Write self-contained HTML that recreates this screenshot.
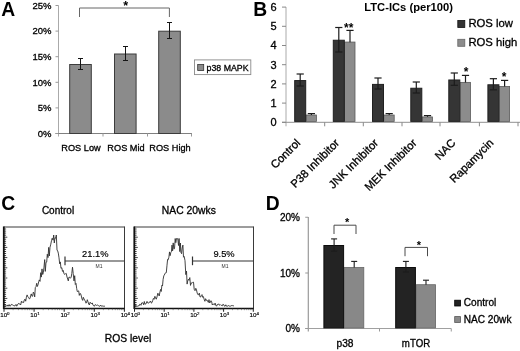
<!DOCTYPE html>
<html><head><meta charset="utf-8"><title>Figure</title>
<style>
html,body{margin:0;padding:0;background:#fff;overflow:hidden;}
svg{display:block;will-change:transform;filter:grayscale(1);}
svg text{font-family:"Liberation Sans",Arial,sans-serif;stroke:#000;stroke-width:0.3px;fill:#000;}
svg text[font-weight="bold"]{stroke:none;}
</style></head>
<body>
<svg width="520" height="351" viewBox="0 0 520 351">
<rect x="0" y="0" width="520" height="351" fill="#ffffff"/>
<text x="1.3" y="15.6" font-size="19.3" text-anchor="start" font-weight="bold" fill="#000" >A</text>
<text x="253.3" y="15.6" font-size="19.3" text-anchor="start" font-weight="bold" fill="#000" >B</text>
<text x="1.3" y="209.6" font-size="19.3" text-anchor="start" font-weight="bold" fill="#000" >C</text>
<text x="265.8" y="210.1" font-size="19.3" text-anchor="start" font-weight="bold" fill="#000" >D</text>
<line x1="58.5" y1="5.5" x2="58.5" y2="136.5" stroke="#aaa" stroke-width="1"/>
<line x1="55.5" y1="133.5" x2="192" y2="133.5" stroke="#808080" stroke-width="1"/>
<line x1="55.5" y1="133.5" x2="58.5" y2="133.5" stroke="#999" stroke-width="1"/>
<text x="51.5" y="136.8" font-size="9.5" text-anchor="end" font-weight="normal" fill="#000" >0%</text>
<line x1="55.5" y1="107.9" x2="58.5" y2="107.9" stroke="#999" stroke-width="1"/>
<text x="51.5" y="111.2" font-size="9.5" text-anchor="end" font-weight="normal" fill="#000" >5%</text>
<line x1="55.5" y1="82.3" x2="58.5" y2="82.3" stroke="#999" stroke-width="1"/>
<text x="51.5" y="85.6" font-size="9.5" text-anchor="end" font-weight="normal" fill="#000" >10%</text>
<line x1="55.5" y1="56.69999999999999" x2="58.5" y2="56.69999999999999" stroke="#999" stroke-width="1"/>
<text x="51.5" y="60.0" font-size="9.5" text-anchor="end" font-weight="normal" fill="#000" >15%</text>
<line x1="55.5" y1="31.099999999999994" x2="58.5" y2="31.099999999999994" stroke="#999" stroke-width="1"/>
<text x="51.5" y="34.4" font-size="9.5" text-anchor="end" font-weight="normal" fill="#000" >20%</text>
<line x1="55.5" y1="5.5" x2="58.5" y2="5.5" stroke="#999" stroke-width="1"/>
<text x="51.5" y="8.8" font-size="9.5" text-anchor="end" font-weight="normal" fill="#000" >25%</text>
<line x1="103" y1="133.5" x2="103" y2="136.5" stroke="#999" stroke-width="1"/>
<line x1="147.5" y1="133.5" x2="147.5" y2="136.5" stroke="#999" stroke-width="1"/>
<line x1="191.5" y1="133.5" x2="191.5" y2="136.5" stroke="#999" stroke-width="1"/>
<rect x="69.7" y="64.5" width="21.6" height="69.0" fill="#8b8b8b" stroke="#3c3c3c" stroke-width="1"/>
<line x1="80.5" y1="58.5" x2="80.5" y2="69.5" stroke="#151515" stroke-width="1"/>
<line x1="78.0" y1="58.5" x2="83.0" y2="58.5" stroke="#151515" stroke-width="1"/>
<line x1="78.0" y1="69.5" x2="83.0" y2="69.5" stroke="#151515" stroke-width="1"/>
<rect x="114.5" y="54.0" width="21.6" height="79.5" fill="#8b8b8b" stroke="#3c3c3c" stroke-width="1"/>
<line x1="125.5" y1="46.5" x2="125.5" y2="60.5" stroke="#151515" stroke-width="1"/>
<line x1="123.0" y1="46.5" x2="128.0" y2="46.5" stroke="#151515" stroke-width="1"/>
<line x1="123.0" y1="60.5" x2="128.0" y2="60.5" stroke="#151515" stroke-width="1"/>
<rect x="158.7" y="31.2" width="21.6" height="102.3" fill="#8b8b8b" stroke="#3c3c3c" stroke-width="1"/>
<line x1="169.5" y1="22.5" x2="169.5" y2="38.5" stroke="#151515" stroke-width="1"/>
<line x1="167.0" y1="22.5" x2="172.0" y2="22.5" stroke="#151515" stroke-width="1"/>
<line x1="167.0" y1="38.5" x2="172.0" y2="38.5" stroke="#151515" stroke-width="1"/>
<text x="81" y="151.4" font-size="9.2" text-anchor="middle" font-weight="normal" fill="#000" >ROS Low</text>
<text x="126" y="151.4" font-size="9.2" text-anchor="middle" font-weight="normal" fill="#000" >ROS Mid</text>
<text x="170" y="151.4" font-size="9.2" text-anchor="middle" font-weight="normal" fill="#000" >ROS High</text>
<polyline points="79.5,17 79.5,8 169.4,8 169.4,17" fill="none" stroke="#666" stroke-width="1"/>
<text x="125.6" y="10.2" font-size="12.5" text-anchor="middle" font-weight="bold" fill="#000" >*</text>
<rect x="194.5" y="59.9" width="56.3" height="14.7" fill="#fff" stroke="#8a8a8a" stroke-width="0.9"/>
<rect x="197.7" y="64.5" width="6" height="6" fill="#8b8b8b" stroke="#333" stroke-width="0.8"/>
<text x="206.6" y="71" font-size="9" text-anchor="start" font-weight="normal" fill="#000" textLength="42" lengthAdjust="spacingAndGlyphs">p38 MAPK</text>
<line x1="286" y1="7" x2="286" y2="126.3" stroke="#aaa" stroke-width="1"/>
<line x1="282" y1="122.3" x2="520" y2="122.3" stroke="#909090" stroke-width="1"/>
<line x1="282" y1="122.3" x2="286" y2="122.3" stroke="#888" stroke-width="1"/>
<text x="276.5" y="126.1" font-size="11" text-anchor="end" font-weight="normal" fill="#000" >0</text>
<line x1="282" y1="103.1" x2="286" y2="103.1" stroke="#888" stroke-width="1"/>
<text x="276.5" y="106.9" font-size="11" text-anchor="end" font-weight="normal" fill="#000" >1</text>
<line x1="282" y1="83.9" x2="286" y2="83.9" stroke="#888" stroke-width="1"/>
<text x="276.5" y="87.7" font-size="11" text-anchor="end" font-weight="normal" fill="#000" >2</text>
<line x1="282" y1="64.7" x2="286" y2="64.7" stroke="#888" stroke-width="1"/>
<text x="276.5" y="68.5" font-size="11" text-anchor="end" font-weight="normal" fill="#000" >3</text>
<line x1="282" y1="45.5" x2="286" y2="45.5" stroke="#888" stroke-width="1"/>
<text x="276.5" y="49.3" font-size="11" text-anchor="end" font-weight="normal" fill="#000" >4</text>
<line x1="282" y1="26.299999999999997" x2="286" y2="26.299999999999997" stroke="#888" stroke-width="1"/>
<text x="276.5" y="30.1" font-size="11" text-anchor="end" font-weight="normal" fill="#000" >5</text>
<line x1="282" y1="7.1000000000000085" x2="286" y2="7.1000000000000085" stroke="#888" stroke-width="1"/>
<text x="276.5" y="10.9" font-size="11" text-anchor="end" font-weight="normal" fill="#000" >6</text>
<line x1="324.7" y1="122.3" x2="324.7" y2="126.3" stroke="#888" stroke-width="1"/>
<line x1="363.3" y1="122.3" x2="363.3" y2="126.3" stroke="#888" stroke-width="1"/>
<line x1="402" y1="122.3" x2="402" y2="126.3" stroke="#888" stroke-width="1"/>
<line x1="440" y1="122.3" x2="440" y2="126.3" stroke="#888" stroke-width="1"/>
<line x1="479.4" y1="122.3" x2="479.4" y2="126.3" stroke="#888" stroke-width="1"/>
<line x1="518" y1="122.3" x2="518" y2="126.3" stroke="#888" stroke-width="1"/>
<text x="408.6" y="10.5" font-size="11.2" text-anchor="middle" font-weight="bold" fill="#000" >LTC-ICs (per100)</text>
<rect x="306.0" y="115.02" width="10.4" height="6.38" fill="#8c8c8c" stroke="#5a5a5a" stroke-width="0.8"/>
<rect x="294.7" y="80.56" width="11" height="40.84" fill="#353535" stroke="#202020" stroke-width="1"/>
<line x1="300.2" y1="74" x2="300.2" y2="86" stroke="#1c1c1c" stroke-width="1.2"/>
<line x1="296.59999999999997" y1="74" x2="303.8" y2="74" stroke="#1c1c1c" stroke-width="1.2"/>
<line x1="296.59999999999997" y1="86" x2="303.8" y2="86" stroke="#1c1c1c" stroke-width="1.2"/>
<line x1="311.4" y1="113.6" x2="311.4" y2="115" stroke="#1c1c1c" stroke-width="1.2"/>
<line x1="307.79999999999995" y1="113.6" x2="315.0" y2="113.6" stroke="#1c1c1c" stroke-width="1.2"/>
<rect x="344.6" y="42.06" width="10.4" height="79.34" fill="#8c8c8c" stroke="#5a5a5a" stroke-width="0.8"/>
<rect x="333.3" y="40.24" width="11" height="81.16" fill="#353535" stroke="#202020" stroke-width="1"/>
<line x1="338.8" y1="27.5" x2="338.8" y2="52" stroke="#1c1c1c" stroke-width="1.2"/>
<line x1="335.2" y1="27.5" x2="342.40000000000003" y2="27.5" stroke="#1c1c1c" stroke-width="1.2"/>
<line x1="335.2" y1="52" x2="342.40000000000003" y2="52" stroke="#1c1c1c" stroke-width="1.2"/>
<line x1="350.0" y1="30.4" x2="350.0" y2="42.16" stroke="#1c1c1c" stroke-width="1.2"/>
<line x1="346.4" y1="30.4" x2="353.6" y2="30.4" stroke="#1c1c1c" stroke-width="1.2"/>
<rect x="383.8" y="115.02" width="10.4" height="6.38" fill="#8c8c8c" stroke="#5a5a5a" stroke-width="0.8"/>
<rect x="372.5" y="84.4" width="11" height="37.0" fill="#353535" stroke="#202020" stroke-width="1"/>
<line x1="378" y1="78" x2="378" y2="89" stroke="#1c1c1c" stroke-width="1.2"/>
<line x1="374.4" y1="78" x2="381.6" y2="78" stroke="#1c1c1c" stroke-width="1.2"/>
<line x1="374.4" y1="89" x2="381.6" y2="89" stroke="#1c1c1c" stroke-width="1.2"/>
<line x1="389.2" y1="113.6" x2="389.2" y2="115" stroke="#1c1c1c" stroke-width="1.2"/>
<line x1="385.59999999999997" y1="113.6" x2="392.8" y2="113.6" stroke="#1c1c1c" stroke-width="1.2"/>
<rect x="422.1" y="116.94" width="10.4" height="4.46" fill="#8c8c8c" stroke="#5a5a5a" stroke-width="0.8"/>
<rect x="410.8" y="88.24" width="11" height="33.16" fill="#353535" stroke="#202020" stroke-width="1"/>
<line x1="416.3" y1="82" x2="416.3" y2="93" stroke="#1c1c1c" stroke-width="1.2"/>
<line x1="412.7" y1="82" x2="419.90000000000003" y2="82" stroke="#1c1c1c" stroke-width="1.2"/>
<line x1="412.7" y1="93" x2="419.90000000000003" y2="93" stroke="#1c1c1c" stroke-width="1.2"/>
<line x1="427.5" y1="115.6" x2="427.5" y2="116.8" stroke="#1c1c1c" stroke-width="1.2"/>
<line x1="423.9" y1="115.6" x2="431.1" y2="115.6" stroke="#1c1c1c" stroke-width="1.2"/>
<rect x="460.1" y="82.38" width="10.4" height="39.02" fill="#8c8c8c" stroke="#5a5a5a" stroke-width="0.8"/>
<rect x="448.8" y="79.98" width="11" height="41.42" fill="#353535" stroke="#202020" stroke-width="1"/>
<line x1="454.3" y1="73" x2="454.3" y2="85.3" stroke="#1c1c1c" stroke-width="1.2"/>
<line x1="450.7" y1="73" x2="457.90000000000003" y2="73" stroke="#1c1c1c" stroke-width="1.2"/>
<line x1="450.7" y1="85.3" x2="457.90000000000003" y2="85.3" stroke="#1c1c1c" stroke-width="1.2"/>
<line x1="465.5" y1="75.4" x2="465.5" y2="82.47999999999999" stroke="#1c1c1c" stroke-width="1.2"/>
<line x1="461.9" y1="75.4" x2="469.1" y2="75.4" stroke="#1c1c1c" stroke-width="1.2"/>
<rect x="499.2" y="86.41" width="10.4" height="34.99" fill="#8c8c8c" stroke="#5a5a5a" stroke-width="0.8"/>
<rect x="487.9" y="84.78" width="11" height="36.62" fill="#353535" stroke="#202020" stroke-width="1"/>
<line x1="493.4" y1="78.7" x2="493.4" y2="89.8" stroke="#1c1c1c" stroke-width="1.2"/>
<line x1="489.79999999999995" y1="78.7" x2="497.0" y2="78.7" stroke="#1c1c1c" stroke-width="1.2"/>
<line x1="489.79999999999995" y1="89.8" x2="497.0" y2="89.8" stroke="#1c1c1c" stroke-width="1.2"/>
<line x1="504.59999999999997" y1="80.4" x2="504.59999999999997" y2="86.512" stroke="#1c1c1c" stroke-width="1.2"/>
<line x1="500.99999999999994" y1="80.4" x2="508.2" y2="80.4" stroke="#1c1c1c" stroke-width="1.2"/>
<text x="348.7" y="32.3" font-size="12" text-anchor="middle" font-weight="bold" fill="#000" >**</text>
<text x="466" y="76.2" font-size="12" text-anchor="middle" font-weight="bold" fill="#000" >*</text>
<text x="504.2" y="81.2" font-size="12" text-anchor="middle" font-weight="bold" fill="#000" >*</text>
<rect x="457.8" y="20.5" width="7" height="7" fill="#333" stroke="#111" stroke-width="0.8"/>
<text x="468.4" y="26.8" font-size="11.3" text-anchor="start" font-weight="normal" fill="#000" >ROS low</text>
<rect x="457.8" y="39.3" width="7" height="7" fill="#8c8c8c" stroke="#666" stroke-width="0.8"/>
<text x="468.4" y="45.8" font-size="11.3" text-anchor="start" font-weight="normal" fill="#000" >ROS high</text>
<text transform="translate(301,143.6) rotate(-45)" font-size="11.3" text-anchor="end" fill="#111">Control</text>
<text transform="translate(340,143.6) rotate(-45)" font-size="11.3" text-anchor="end" fill="#111">P38 Inhibitor</text>
<text transform="translate(379,143.6) rotate(-45)" font-size="11.3" text-anchor="end" fill="#111">JNK Inhibitor</text>
<text transform="translate(417.3,143.6) rotate(-45)" font-size="11.3" text-anchor="end" fill="#111">MEK Inhibitor</text>
<text transform="translate(456.3,143.6) rotate(-45)" font-size="11.3" text-anchor="end" fill="#111">NAC</text>
<text transform="translate(494.3,143.6) rotate(-45)" font-size="11.3" text-anchor="end" fill="#111">Rapamycin</text>
<line x1="3.5" y1="227" x2="124.5" y2="227" stroke="#3a3a3a" stroke-width="1"/>
<line x1="124.5" y1="226.5" x2="124.5" y2="309" stroke="#3a3a3a" stroke-width="1"/>
<line x1="3.8" y1="226.5" x2="3.8" y2="309" stroke="#111" stroke-width="1.8"/>
<line x1="3.5" y1="308.4" x2="124.5" y2="308.4" stroke="#111" stroke-width="1.5"/>
<line x1="4.0" y1="308.5" x2="4.0" y2="311.8" stroke="#222" stroke-width="1"/>
<text x="4.9" y="317.4" font-size="6.2" text-anchor="middle" style="stroke-width:0.15px">10<tspan dy="-2.4" font-size="4.4">0</tspan></text>
<line x1="13.1" y1="308.5" x2="13.1" y2="310.2" stroke="#444" stroke-width="0.5"/>
<line x1="18.4" y1="308.5" x2="18.4" y2="310.2" stroke="#444" stroke-width="0.5"/>
<line x1="22.1" y1="308.5" x2="22.1" y2="310.2" stroke="#444" stroke-width="0.5"/>
<line x1="25.0" y1="308.5" x2="25.0" y2="310.2" stroke="#444" stroke-width="0.5"/>
<line x1="27.4" y1="308.5" x2="27.4" y2="310.2" stroke="#444" stroke-width="0.5"/>
<line x1="29.4" y1="308.5" x2="29.4" y2="310.2" stroke="#444" stroke-width="0.5"/>
<line x1="31.2" y1="308.5" x2="31.2" y2="310.2" stroke="#444" stroke-width="0.5"/>
<line x1="32.7" y1="308.5" x2="32.7" y2="310.2" stroke="#444" stroke-width="0.5"/>
<line x1="34.1" y1="308.5" x2="34.1" y2="311.8" stroke="#222" stroke-width="1"/>
<text x="35.0" y="317.4" font-size="6.2" text-anchor="middle" style="stroke-width:0.15px">10<tspan dy="-2.4" font-size="4.4">1</tspan></text>
<line x1="43.2" y1="308.5" x2="43.2" y2="310.2" stroke="#444" stroke-width="0.5"/>
<line x1="48.5" y1="308.5" x2="48.5" y2="310.2" stroke="#444" stroke-width="0.5"/>
<line x1="52.2" y1="308.5" x2="52.2" y2="310.2" stroke="#444" stroke-width="0.5"/>
<line x1="55.1" y1="308.5" x2="55.1" y2="310.2" stroke="#444" stroke-width="0.5"/>
<line x1="57.5" y1="308.5" x2="57.5" y2="310.2" stroke="#444" stroke-width="0.5"/>
<line x1="59.5" y1="308.5" x2="59.5" y2="310.2" stroke="#444" stroke-width="0.5"/>
<line x1="61.3" y1="308.5" x2="61.3" y2="310.2" stroke="#444" stroke-width="0.5"/>
<line x1="62.8" y1="308.5" x2="62.8" y2="310.2" stroke="#444" stroke-width="0.5"/>
<line x1="64.2" y1="308.5" x2="64.2" y2="311.8" stroke="#222" stroke-width="1"/>
<text x="65.1" y="317.4" font-size="6.2" text-anchor="middle" style="stroke-width:0.15px">10<tspan dy="-2.4" font-size="4.4">2</tspan></text>
<line x1="73.3" y1="308.5" x2="73.3" y2="310.2" stroke="#444" stroke-width="0.5"/>
<line x1="78.6" y1="308.5" x2="78.6" y2="310.2" stroke="#444" stroke-width="0.5"/>
<line x1="82.3" y1="308.5" x2="82.3" y2="310.2" stroke="#444" stroke-width="0.5"/>
<line x1="85.2" y1="308.5" x2="85.2" y2="310.2" stroke="#444" stroke-width="0.5"/>
<line x1="87.6" y1="308.5" x2="87.6" y2="310.2" stroke="#444" stroke-width="0.5"/>
<line x1="89.6" y1="308.5" x2="89.6" y2="310.2" stroke="#444" stroke-width="0.5"/>
<line x1="91.4" y1="308.5" x2="91.4" y2="310.2" stroke="#444" stroke-width="0.5"/>
<line x1="92.9" y1="308.5" x2="92.9" y2="310.2" stroke="#444" stroke-width="0.5"/>
<line x1="94.3" y1="308.5" x2="94.3" y2="311.8" stroke="#222" stroke-width="1"/>
<text x="95.2" y="317.4" font-size="6.2" text-anchor="middle" style="stroke-width:0.15px">10<tspan dy="-2.4" font-size="4.4">3</tspan></text>
<line x1="103.4" y1="308.5" x2="103.4" y2="310.2" stroke="#444" stroke-width="0.5"/>
<line x1="108.7" y1="308.5" x2="108.7" y2="310.2" stroke="#444" stroke-width="0.5"/>
<line x1="112.4" y1="308.5" x2="112.4" y2="310.2" stroke="#444" stroke-width="0.5"/>
<line x1="115.3" y1="308.5" x2="115.3" y2="310.2" stroke="#444" stroke-width="0.5"/>
<line x1="117.7" y1="308.5" x2="117.7" y2="310.2" stroke="#444" stroke-width="0.5"/>
<line x1="119.7" y1="308.5" x2="119.7" y2="310.2" stroke="#444" stroke-width="0.5"/>
<line x1="121.5" y1="308.5" x2="121.5" y2="310.2" stroke="#444" stroke-width="0.5"/>
<line x1="123.0" y1="308.5" x2="123.0" y2="310.2" stroke="#444" stroke-width="0.5"/>
<line x1="124.4" y1="308.5" x2="124.4" y2="311.8" stroke="#222" stroke-width="1"/>
<text x="125.3" y="317.4" font-size="6.2" text-anchor="middle" style="stroke-width:0.15px">10<tspan dy="-2.4" font-size="4.4">4</tspan></text>
<line x1="3.5" y1="229.0" x2="6.1" y2="229.0" stroke="#111" stroke-width="0.8"/>
<line x1="3.5" y1="231.1" x2="6.1" y2="231.1" stroke="#111" stroke-width="0.8"/>
<line x1="3.5" y1="233.1" x2="6.1" y2="233.1" stroke="#111" stroke-width="0.8"/>
<line x1="3.5" y1="235.2" x2="6.1" y2="235.2" stroke="#111" stroke-width="0.8"/>
<line x1="3.5" y1="237.2" x2="7.3" y2="237.2" stroke="#111" stroke-width="0.8"/>
<line x1="3.5" y1="239.2" x2="6.1" y2="239.2" stroke="#111" stroke-width="0.8"/>
<line x1="3.5" y1="241.3" x2="6.1" y2="241.3" stroke="#111" stroke-width="0.8"/>
<line x1="3.5" y1="243.3" x2="6.1" y2="243.3" stroke="#111" stroke-width="0.8"/>
<line x1="3.5" y1="245.4" x2="6.1" y2="245.4" stroke="#111" stroke-width="0.8"/>
<line x1="3.5" y1="247.4" x2="7.3" y2="247.4" stroke="#111" stroke-width="0.8"/>
<line x1="3.5" y1="249.4" x2="6.1" y2="249.4" stroke="#111" stroke-width="0.8"/>
<line x1="3.5" y1="251.5" x2="6.1" y2="251.5" stroke="#111" stroke-width="0.8"/>
<line x1="3.5" y1="253.5" x2="6.1" y2="253.5" stroke="#111" stroke-width="0.8"/>
<line x1="3.5" y1="255.6" x2="6.1" y2="255.6" stroke="#111" stroke-width="0.8"/>
<line x1="3.5" y1="257.6" x2="7.3" y2="257.6" stroke="#111" stroke-width="0.8"/>
<line x1="3.5" y1="259.6" x2="6.1" y2="259.6" stroke="#111" stroke-width="0.8"/>
<line x1="3.5" y1="261.7" x2="6.1" y2="261.7" stroke="#111" stroke-width="0.8"/>
<line x1="3.5" y1="263.7" x2="6.1" y2="263.7" stroke="#111" stroke-width="0.8"/>
<line x1="3.5" y1="265.8" x2="6.1" y2="265.8" stroke="#111" stroke-width="0.8"/>
<line x1="3.5" y1="267.8" x2="7.3" y2="267.8" stroke="#111" stroke-width="0.8"/>
<line x1="3.5" y1="269.8" x2="6.1" y2="269.8" stroke="#111" stroke-width="0.8"/>
<line x1="3.5" y1="271.9" x2="6.1" y2="271.9" stroke="#111" stroke-width="0.8"/>
<line x1="3.5" y1="273.9" x2="6.1" y2="273.9" stroke="#111" stroke-width="0.8"/>
<line x1="3.5" y1="276.0" x2="6.1" y2="276.0" stroke="#111" stroke-width="0.8"/>
<line x1="3.5" y1="278.0" x2="7.3" y2="278.0" stroke="#111" stroke-width="0.8"/>
<line x1="3.5" y1="280.0" x2="6.1" y2="280.0" stroke="#111" stroke-width="0.8"/>
<line x1="3.5" y1="282.1" x2="6.1" y2="282.1" stroke="#111" stroke-width="0.8"/>
<line x1="3.5" y1="284.1" x2="6.1" y2="284.1" stroke="#111" stroke-width="0.8"/>
<line x1="3.5" y1="286.2" x2="6.1" y2="286.2" stroke="#111" stroke-width="0.8"/>
<line x1="3.5" y1="288.2" x2="7.3" y2="288.2" stroke="#111" stroke-width="0.8"/>
<line x1="3.5" y1="290.2" x2="6.1" y2="290.2" stroke="#111" stroke-width="0.8"/>
<line x1="3.5" y1="292.3" x2="6.1" y2="292.3" stroke="#111" stroke-width="0.8"/>
<line x1="3.5" y1="294.3" x2="6.1" y2="294.3" stroke="#111" stroke-width="0.8"/>
<line x1="3.5" y1="296.4" x2="6.1" y2="296.4" stroke="#111" stroke-width="0.8"/>
<line x1="3.5" y1="298.4" x2="7.3" y2="298.4" stroke="#111" stroke-width="0.8"/>
<line x1="3.5" y1="300.4" x2="6.1" y2="300.4" stroke="#111" stroke-width="0.8"/>
<line x1="3.5" y1="302.5" x2="6.1" y2="302.5" stroke="#111" stroke-width="0.8"/>
<line x1="3.5" y1="304.5" x2="6.1" y2="304.5" stroke="#111" stroke-width="0.8"/>
<line x1="3.5" y1="306.6" x2="6.1" y2="306.6" stroke="#111" stroke-width="0.8"/>
<polyline fill="none" stroke="#303030" stroke-width="0.9" stroke-linejoin="round" points="4.5,305.9 5.2,305.7 5.9,305.9 6.5,305.7 7.2,306.2 7.9,304.9 8.6,306.2 9.2,304.6 9.9,306.2 10.6,305.8 11.3,304.4 12.0,304.5 12.6,304.9 13.3,305.3 14.0,306.2 14.7,305.6 15.3,305.6 16.0,304.4 16.7,306.2 17.3,305.4 18.0,303.9 18.7,303.3 19.3,304.1 20.0,303.9 20.7,304.9 21.4,301.3 22.1,302.6 22.9,301.7 23.6,302.6 24.3,300.0 25.0,299.1 25.7,301.2 26.4,297.2 27.1,294.9 27.9,296.8 28.6,297.7 29.3,298.8 30.0,298.5 30.7,295.3 31.3,293.9 32.0,296.4 32.7,296.1 33.3,292.1 34.0,293.0 34.7,296.9 35.3,287.6 36.0,286.7 36.7,283.3 37.3,286.5 38.0,284.8 38.7,281.6 39.3,279.9 40.0,281.4 40.7,272.7 41.3,277.1 42.0,268.9 42.7,274.5 43.3,272.7 44.0,267.1 44.7,259.6 45.3,271.4 46.0,262.3 46.7,262.1 47.3,254.2 48.0,257.6 48.7,247.4 49.3,256.0 50.0,247.2 50.8,244.2 51.5,240.6 52.2,238.2 53.0,240.2 53.7,235 54.3,243.0 55.0,237.7 55.7,238.2 56.3,235 57.0,250.0 57.7,251.0 58.3,253.1 59.0,257.8 59.7,263.8 60.3,261.9 61.0,268.4 61.8,267.7 62.5,271.4 63.2,270.4 64.0,273.8 64.8,274.4 65.5,273.7 66.2,273.4 67.0,277.0 67.7,279.0 68.3,280.9 69.0,277.0 69.7,277.2 70.4,278.1 71.1,277.6 71.8,273.4 72.5,267.2 73.2,273.5 74.0,280.9 74.7,275.7 75.3,284.5 76.0,283.4 76.7,288.6 77.3,291.6 78.0,291.2 78.7,290.9 79.3,295.4 80.0,293.3 80.7,293.9 81.3,296.0 82.0,299.0 82.7,300.4 83.3,297.3 84.0,298.9 84.7,300.2 85.3,301.1 86.0,303.2 86.7,302.1 87.3,299.7 88.0,301.9 88.7,304.0 89.4,305.0 90.1,302.2 90.9,303.1 91.6,304.0 92.3,302.9 93.0,305.2 93.7,305.7 94.4,306.2 95.1,304.7 95.8,304.8 96.5,305.4 97.2,304.9 97.9,305.3 98.6,305.7 99.3,306.2 100.0,306.2 100.7,305.1 101.4,306.2 102.1,305.8 102.9,306.2 103.6,306.2 104.3,306.2 105,306.2"/>
<line x1="65" y1="261" x2="124" y2="261" stroke="#333" stroke-width="1.2"/>
<line x1="65" y1="256.5" x2="65" y2="265.2" stroke="#333" stroke-width="1.2"/>
<text x="95.3" y="256.6" font-size="9.3" text-anchor="middle" font-weight="normal" fill="#000" style="stroke-width:0.18px">21.1%</text>
<text x="99" y="268.3" font-size="5" text-anchor="middle" font-weight="normal" fill="#333" style="stroke:none;fill:#333">M1</text>
<text x="58" y="213.5" font-size="10" text-anchor="middle" font-weight="normal" fill="#000" >Control</text>
<line x1="134" y1="227" x2="253.5" y2="227" stroke="#3a3a3a" stroke-width="1"/>
<line x1="253.5" y1="226.5" x2="253.5" y2="309" stroke="#3a3a3a" stroke-width="1"/>
<line x1="134.3" y1="226.5" x2="134.3" y2="309" stroke="#111" stroke-width="1.8"/>
<line x1="134" y1="308.4" x2="253.5" y2="308.4" stroke="#111" stroke-width="1.5"/>
<line x1="134.5" y1="308.5" x2="134.5" y2="311.8" stroke="#222" stroke-width="1"/>
<text x="135.4" y="317.4" font-size="6.2" text-anchor="middle" style="stroke-width:0.15px">10<tspan dy="-2.4" font-size="4.4">0</tspan></text>
<line x1="143.4" y1="308.5" x2="143.4" y2="310.2" stroke="#444" stroke-width="0.5"/>
<line x1="148.7" y1="308.5" x2="148.7" y2="310.2" stroke="#444" stroke-width="0.5"/>
<line x1="152.4" y1="308.5" x2="152.4" y2="310.2" stroke="#444" stroke-width="0.5"/>
<line x1="155.3" y1="308.5" x2="155.3" y2="310.2" stroke="#444" stroke-width="0.5"/>
<line x1="157.6" y1="308.5" x2="157.6" y2="310.2" stroke="#444" stroke-width="0.5"/>
<line x1="159.6" y1="308.5" x2="159.6" y2="310.2" stroke="#444" stroke-width="0.5"/>
<line x1="161.3" y1="308.5" x2="161.3" y2="310.2" stroke="#444" stroke-width="0.5"/>
<line x1="162.8" y1="308.5" x2="162.8" y2="310.2" stroke="#444" stroke-width="0.5"/>
<line x1="164.2" y1="308.5" x2="164.2" y2="311.8" stroke="#222" stroke-width="1"/>
<text x="165.1" y="317.4" font-size="6.2" text-anchor="middle" style="stroke-width:0.15px">10<tspan dy="-2.4" font-size="4.4">1</tspan></text>
<line x1="173.1" y1="308.5" x2="173.1" y2="310.2" stroke="#444" stroke-width="0.5"/>
<line x1="178.4" y1="308.5" x2="178.4" y2="310.2" stroke="#444" stroke-width="0.5"/>
<line x1="182.1" y1="308.5" x2="182.1" y2="310.2" stroke="#444" stroke-width="0.5"/>
<line x1="185.0" y1="308.5" x2="185.0" y2="310.2" stroke="#444" stroke-width="0.5"/>
<line x1="187.3" y1="308.5" x2="187.3" y2="310.2" stroke="#444" stroke-width="0.5"/>
<line x1="189.3" y1="308.5" x2="189.3" y2="310.2" stroke="#444" stroke-width="0.5"/>
<line x1="191.0" y1="308.5" x2="191.0" y2="310.2" stroke="#444" stroke-width="0.5"/>
<line x1="192.5" y1="308.5" x2="192.5" y2="310.2" stroke="#444" stroke-width="0.5"/>
<line x1="193.9" y1="308.5" x2="193.9" y2="311.8" stroke="#222" stroke-width="1"/>
<text x="194.8" y="317.4" font-size="6.2" text-anchor="middle" style="stroke-width:0.15px">10<tspan dy="-2.4" font-size="4.4">2</tspan></text>
<line x1="202.8" y1="308.5" x2="202.8" y2="310.2" stroke="#444" stroke-width="0.5"/>
<line x1="208.1" y1="308.5" x2="208.1" y2="310.2" stroke="#444" stroke-width="0.5"/>
<line x1="211.8" y1="308.5" x2="211.8" y2="310.2" stroke="#444" stroke-width="0.5"/>
<line x1="214.7" y1="308.5" x2="214.7" y2="310.2" stroke="#444" stroke-width="0.5"/>
<line x1="217.0" y1="308.5" x2="217.0" y2="310.2" stroke="#444" stroke-width="0.5"/>
<line x1="219.0" y1="308.5" x2="219.0" y2="310.2" stroke="#444" stroke-width="0.5"/>
<line x1="220.7" y1="308.5" x2="220.7" y2="310.2" stroke="#444" stroke-width="0.5"/>
<line x1="222.2" y1="308.5" x2="222.2" y2="310.2" stroke="#444" stroke-width="0.5"/>
<line x1="223.6" y1="308.5" x2="223.6" y2="311.8" stroke="#222" stroke-width="1"/>
<text x="224.5" y="317.4" font-size="6.2" text-anchor="middle" style="stroke-width:0.15px">10<tspan dy="-2.4" font-size="4.4">3</tspan></text>
<line x1="232.5" y1="308.5" x2="232.5" y2="310.2" stroke="#444" stroke-width="0.5"/>
<line x1="237.8" y1="308.5" x2="237.8" y2="310.2" stroke="#444" stroke-width="0.5"/>
<line x1="241.5" y1="308.5" x2="241.5" y2="310.2" stroke="#444" stroke-width="0.5"/>
<line x1="244.4" y1="308.5" x2="244.4" y2="310.2" stroke="#444" stroke-width="0.5"/>
<line x1="246.7" y1="308.5" x2="246.7" y2="310.2" stroke="#444" stroke-width="0.5"/>
<line x1="248.7" y1="308.5" x2="248.7" y2="310.2" stroke="#444" stroke-width="0.5"/>
<line x1="250.4" y1="308.5" x2="250.4" y2="310.2" stroke="#444" stroke-width="0.5"/>
<line x1="251.9" y1="308.5" x2="251.9" y2="310.2" stroke="#444" stroke-width="0.5"/>
<line x1="253.3" y1="308.5" x2="253.3" y2="311.8" stroke="#222" stroke-width="1"/>
<text x="254.2" y="317.4" font-size="6.2" text-anchor="middle" style="stroke-width:0.15px">10<tspan dy="-2.4" font-size="4.4">4</tspan></text>
<line x1="134" y1="229.0" x2="136.6" y2="229.0" stroke="#111" stroke-width="0.8"/>
<line x1="134" y1="231.1" x2="136.6" y2="231.1" stroke="#111" stroke-width="0.8"/>
<line x1="134" y1="233.1" x2="136.6" y2="233.1" stroke="#111" stroke-width="0.8"/>
<line x1="134" y1="235.2" x2="136.6" y2="235.2" stroke="#111" stroke-width="0.8"/>
<line x1="134" y1="237.2" x2="137.8" y2="237.2" stroke="#111" stroke-width="0.8"/>
<line x1="134" y1="239.2" x2="136.6" y2="239.2" stroke="#111" stroke-width="0.8"/>
<line x1="134" y1="241.3" x2="136.6" y2="241.3" stroke="#111" stroke-width="0.8"/>
<line x1="134" y1="243.3" x2="136.6" y2="243.3" stroke="#111" stroke-width="0.8"/>
<line x1="134" y1="245.4" x2="136.6" y2="245.4" stroke="#111" stroke-width="0.8"/>
<line x1="134" y1="247.4" x2="137.8" y2="247.4" stroke="#111" stroke-width="0.8"/>
<line x1="134" y1="249.4" x2="136.6" y2="249.4" stroke="#111" stroke-width="0.8"/>
<line x1="134" y1="251.5" x2="136.6" y2="251.5" stroke="#111" stroke-width="0.8"/>
<line x1="134" y1="253.5" x2="136.6" y2="253.5" stroke="#111" stroke-width="0.8"/>
<line x1="134" y1="255.6" x2="136.6" y2="255.6" stroke="#111" stroke-width="0.8"/>
<line x1="134" y1="257.6" x2="137.8" y2="257.6" stroke="#111" stroke-width="0.8"/>
<line x1="134" y1="259.6" x2="136.6" y2="259.6" stroke="#111" stroke-width="0.8"/>
<line x1="134" y1="261.7" x2="136.6" y2="261.7" stroke="#111" stroke-width="0.8"/>
<line x1="134" y1="263.7" x2="136.6" y2="263.7" stroke="#111" stroke-width="0.8"/>
<line x1="134" y1="265.8" x2="136.6" y2="265.8" stroke="#111" stroke-width="0.8"/>
<line x1="134" y1="267.8" x2="137.8" y2="267.8" stroke="#111" stroke-width="0.8"/>
<line x1="134" y1="269.8" x2="136.6" y2="269.8" stroke="#111" stroke-width="0.8"/>
<line x1="134" y1="271.9" x2="136.6" y2="271.9" stroke="#111" stroke-width="0.8"/>
<line x1="134" y1="273.9" x2="136.6" y2="273.9" stroke="#111" stroke-width="0.8"/>
<line x1="134" y1="276.0" x2="136.6" y2="276.0" stroke="#111" stroke-width="0.8"/>
<line x1="134" y1="278.0" x2="137.8" y2="278.0" stroke="#111" stroke-width="0.8"/>
<line x1="134" y1="280.0" x2="136.6" y2="280.0" stroke="#111" stroke-width="0.8"/>
<line x1="134" y1="282.1" x2="136.6" y2="282.1" stroke="#111" stroke-width="0.8"/>
<line x1="134" y1="284.1" x2="136.6" y2="284.1" stroke="#111" stroke-width="0.8"/>
<line x1="134" y1="286.2" x2="136.6" y2="286.2" stroke="#111" stroke-width="0.8"/>
<line x1="134" y1="288.2" x2="137.8" y2="288.2" stroke="#111" stroke-width="0.8"/>
<line x1="134" y1="290.2" x2="136.6" y2="290.2" stroke="#111" stroke-width="0.8"/>
<line x1="134" y1="292.3" x2="136.6" y2="292.3" stroke="#111" stroke-width="0.8"/>
<line x1="134" y1="294.3" x2="136.6" y2="294.3" stroke="#111" stroke-width="0.8"/>
<line x1="134" y1="296.4" x2="136.6" y2="296.4" stroke="#111" stroke-width="0.8"/>
<line x1="134" y1="298.4" x2="137.8" y2="298.4" stroke="#111" stroke-width="0.8"/>
<line x1="134" y1="300.4" x2="136.6" y2="300.4" stroke="#111" stroke-width="0.8"/>
<line x1="134" y1="302.5" x2="136.6" y2="302.5" stroke="#111" stroke-width="0.8"/>
<line x1="134" y1="304.5" x2="136.6" y2="304.5" stroke="#111" stroke-width="0.8"/>
<line x1="134" y1="306.6" x2="136.6" y2="306.6" stroke="#111" stroke-width="0.8"/>
<polyline fill="none" stroke="#303030" stroke-width="0.9" stroke-linejoin="round" points="135.0,305.0 135.7,306.2 136.3,305.9 137.0,306.2 137.7,306.2 138.3,305.8 139.0,306.0 139.7,304.3 140.3,304.3 141.0,305.3 141.7,302.9 142.3,302.8 143.0,302.9 143.7,304.8 144.3,301.5 145.0,304.3 145.7,304.0 146.3,303.1 147.0,301.4 147.7,302.8 148.4,303.3 149.1,302.2 149.9,302.1 150.6,301.1 151.3,303.1 152.0,302.6 152.7,300.5 153.4,298.4 154.1,299.3 154.9,296.3 155.6,298.2 156.3,299.2 157.0,296.9 157.8,293.2 158.5,294.0 159.2,296.0 160.0,291.8 160.6,289.4 161.2,291.5 161.9,285.3 162.5,286.0 163.1,279.4 163.8,275.8 164.4,275.0 165.0,273.3 165.7,272.9 166.3,272.7 167.0,265.2 167.6,259.4 168.2,259.8 168.9,257.2 169.5,251.9 170.1,255.7 170.8,252.6 171.4,251.8 172.0,245.1 172.6,250.9 173.2,242.9 173.9,249.2 174.5,248.6 175.2,238.5 175.8,242.7 176.5,238.5 177.2,238.9 177.8,238.5 178.5,245.5 179.1,238.5 179.8,251.6 180.4,243.0 181.0,252.8 181.6,253.7 182.2,248.0 182.9,245.1 183.5,257.2 184.2,256.5 185.0,260.7 185.8,274.6 186.5,271.1 187.1,284.1 187.8,280.4 188.4,279.2 189.0,280.4 189.8,277.6 190.5,285.4 191.2,282.9 192.0,283.2 192.8,282.3 193.5,282.2 194.2,289.3 195.0,290.7 195.8,288.3 196.5,290.0 197.2,293.1 198.0,294.8 198.7,294.7 199.3,293.1 200.0,296.9 200.7,297.0 201.3,295.6 202.0,294.6 202.7,297.3 203.4,296.6 204.1,299.2 204.9,301.3 205.6,298.7 206.3,300.3 207.0,300.0 207.7,301.5 208.3,302.4 209.0,299.6 209.7,303.0 210.3,302.1 211.0,300.7 211.7,301.8 212.3,305.0 213.0,304.0 213.7,304.3 214.4,304.7 215.1,303.1 215.8,305.3 216.5,306.2 217.2,304.6 217.9,304.8 218.6,303.8 219.3,304.9 220.0,305.4 220.7,304.7 221.5,305.5 222.2,305.9 222.9,304.3 223.6,304.5 224.4,306.1 225.1,306.2 225.8,304.8 226.5,306.2 227.3,306.2 228.0,305.9 228.7,305.5 229.3,306.2 230.0,305.9 230.7,306.2 231.3,305.5 232.0,306.0 232.7,305.5 233.3,305.7 234,306.2"/>
<line x1="192.5" y1="261" x2="253" y2="261" stroke="#333" stroke-width="1.2"/>
<line x1="192.5" y1="256.5" x2="192.5" y2="265.2" stroke="#333" stroke-width="1.2"/>
<text x="224" y="256.6" font-size="9.3" text-anchor="middle" font-weight="normal" fill="#000" style="stroke-width:0.18px">9.5%</text>
<text x="225" y="268.3" font-size="5" text-anchor="middle" font-weight="normal" fill="#333" style="stroke:none;fill:#333">M1</text>
<text x="188.8" y="213.5" font-size="10.35" text-anchor="middle" font-weight="normal" fill="#000" >NAC 20wks</text>
<text x="128" y="341.6" font-size="10.3" text-anchor="middle" font-weight="normal" fill="#000" >ROS level</text>
<line x1="308.25" y1="217" x2="308.25" y2="331.5" stroke="#858585" stroke-width="1"/>
<line x1="305.25" y1="328.5" x2="451.25" y2="328.5" stroke="#a0a0a0" stroke-width="1"/>
<line x1="305.25" y1="328.5" x2="308.25" y2="328.5" stroke="#999" stroke-width="1"/>
<text x="300" y="332.1" font-size="10" text-anchor="end" font-weight="normal" fill="#000" >0%</text>
<line x1="305.25" y1="273" x2="308.25" y2="273" stroke="#999" stroke-width="1"/>
<text x="300" y="276.6" font-size="10" text-anchor="end" font-weight="normal" fill="#000" >10%</text>
<line x1="305.25" y1="217.25" x2="308.25" y2="217.25" stroke="#999" stroke-width="1"/>
<text x="300" y="220.8" font-size="10" text-anchor="end" font-weight="normal" fill="#000" >20%</text>
<line x1="379.5" y1="328.5" x2="379.5" y2="331.5" stroke="#999" stroke-width="1"/>
<line x1="451.25" y1="328.5" x2="451.25" y2="331.5" stroke="#999" stroke-width="1"/>
<rect x="323.9" y="245.5" width="19.7" height="82.4" fill="#232323" stroke="#0c0c0c" stroke-width="1"/>
<rect x="344.5" y="267.4" width="19.3" height="60.5" fill="#888888" stroke="#666" stroke-width="0.8"/>
<line x1="334.09999999999997" y1="238.9" x2="334.09999999999997" y2="251.2" stroke="#1c1c1c" stroke-width="1.1"/>
<line x1="331.09999999999997" y1="238.9" x2="337.09999999999997" y2="238.9" stroke="#1c1c1c" stroke-width="1.1"/>
<line x1="331.09999999999997" y1="251.2" x2="337.09999999999997" y2="251.2" stroke="#1c1c1c" stroke-width="1.1"/>
<line x1="354.2" y1="261.4" x2="354.2" y2="267.5" stroke="#1c1c1c" stroke-width="1.1"/>
<line x1="351.2" y1="261.4" x2="357.2" y2="261.4" stroke="#1c1c1c" stroke-width="1.1"/>
<rect x="395.7" y="267.5" width="19.7" height="60.4" fill="#232323" stroke="#0c0c0c" stroke-width="1"/>
<rect x="416.3" y="284.7" width="19.3" height="43.2" fill="#888888" stroke="#666" stroke-width="0.8"/>
<line x1="405.9" y1="261.4" x2="405.9" y2="272" stroke="#1c1c1c" stroke-width="1.1"/>
<line x1="402.9" y1="261.4" x2="408.9" y2="261.4" stroke="#1c1c1c" stroke-width="1.1"/>
<line x1="402.9" y1="272" x2="408.9" y2="272" stroke="#1c1c1c" stroke-width="1.1"/>
<line x1="426.0" y1="280.2" x2="426.0" y2="284.8" stroke="#1c1c1c" stroke-width="1.1"/>
<line x1="423.0" y1="280.2" x2="429.0" y2="280.2" stroke="#1c1c1c" stroke-width="1.1"/>
<polyline points="334,234 334,225.2 356,225.2 356,234" fill="none" stroke="#4a4a4a" stroke-width="1"/>
<polyline points="405,256.2 405,247.4 427.5,247.4 427.5,256.2" fill="none" stroke="#4a4a4a" stroke-width="1"/>
<text x="347.2" y="226" font-size="11" text-anchor="middle" font-weight="bold" fill="#000" >*</text>
<text x="418.8" y="248.5" font-size="11" text-anchor="middle" font-weight="bold" fill="#000" >*</text>
<text x="345" y="347.2" font-size="10.2" text-anchor="middle" font-weight="normal" fill="#000" >p38</text>
<text x="416" y="347.2" font-size="10.2" text-anchor="middle" font-weight="normal" fill="#000" textLength="28.3" lengthAdjust="spacingAndGlyphs">mTOR</text>
<rect x="454.7" y="300.2" width="5.8" height="5.8" fill="#222" stroke="#000" stroke-width="0.8"/>
<text x="463.75" y="306" font-size="10.1" text-anchor="start" font-weight="normal" fill="#000" >Control</text>
<rect x="454.7" y="316.6" width="5.8" height="5.8" fill="#8a8a8a" stroke="#555" stroke-width="0.8"/>
<text x="463.75" y="322.8" font-size="10.1" text-anchor="start" font-weight="normal" fill="#000" >NAC 20wk</text>
</svg>
</body></html>
